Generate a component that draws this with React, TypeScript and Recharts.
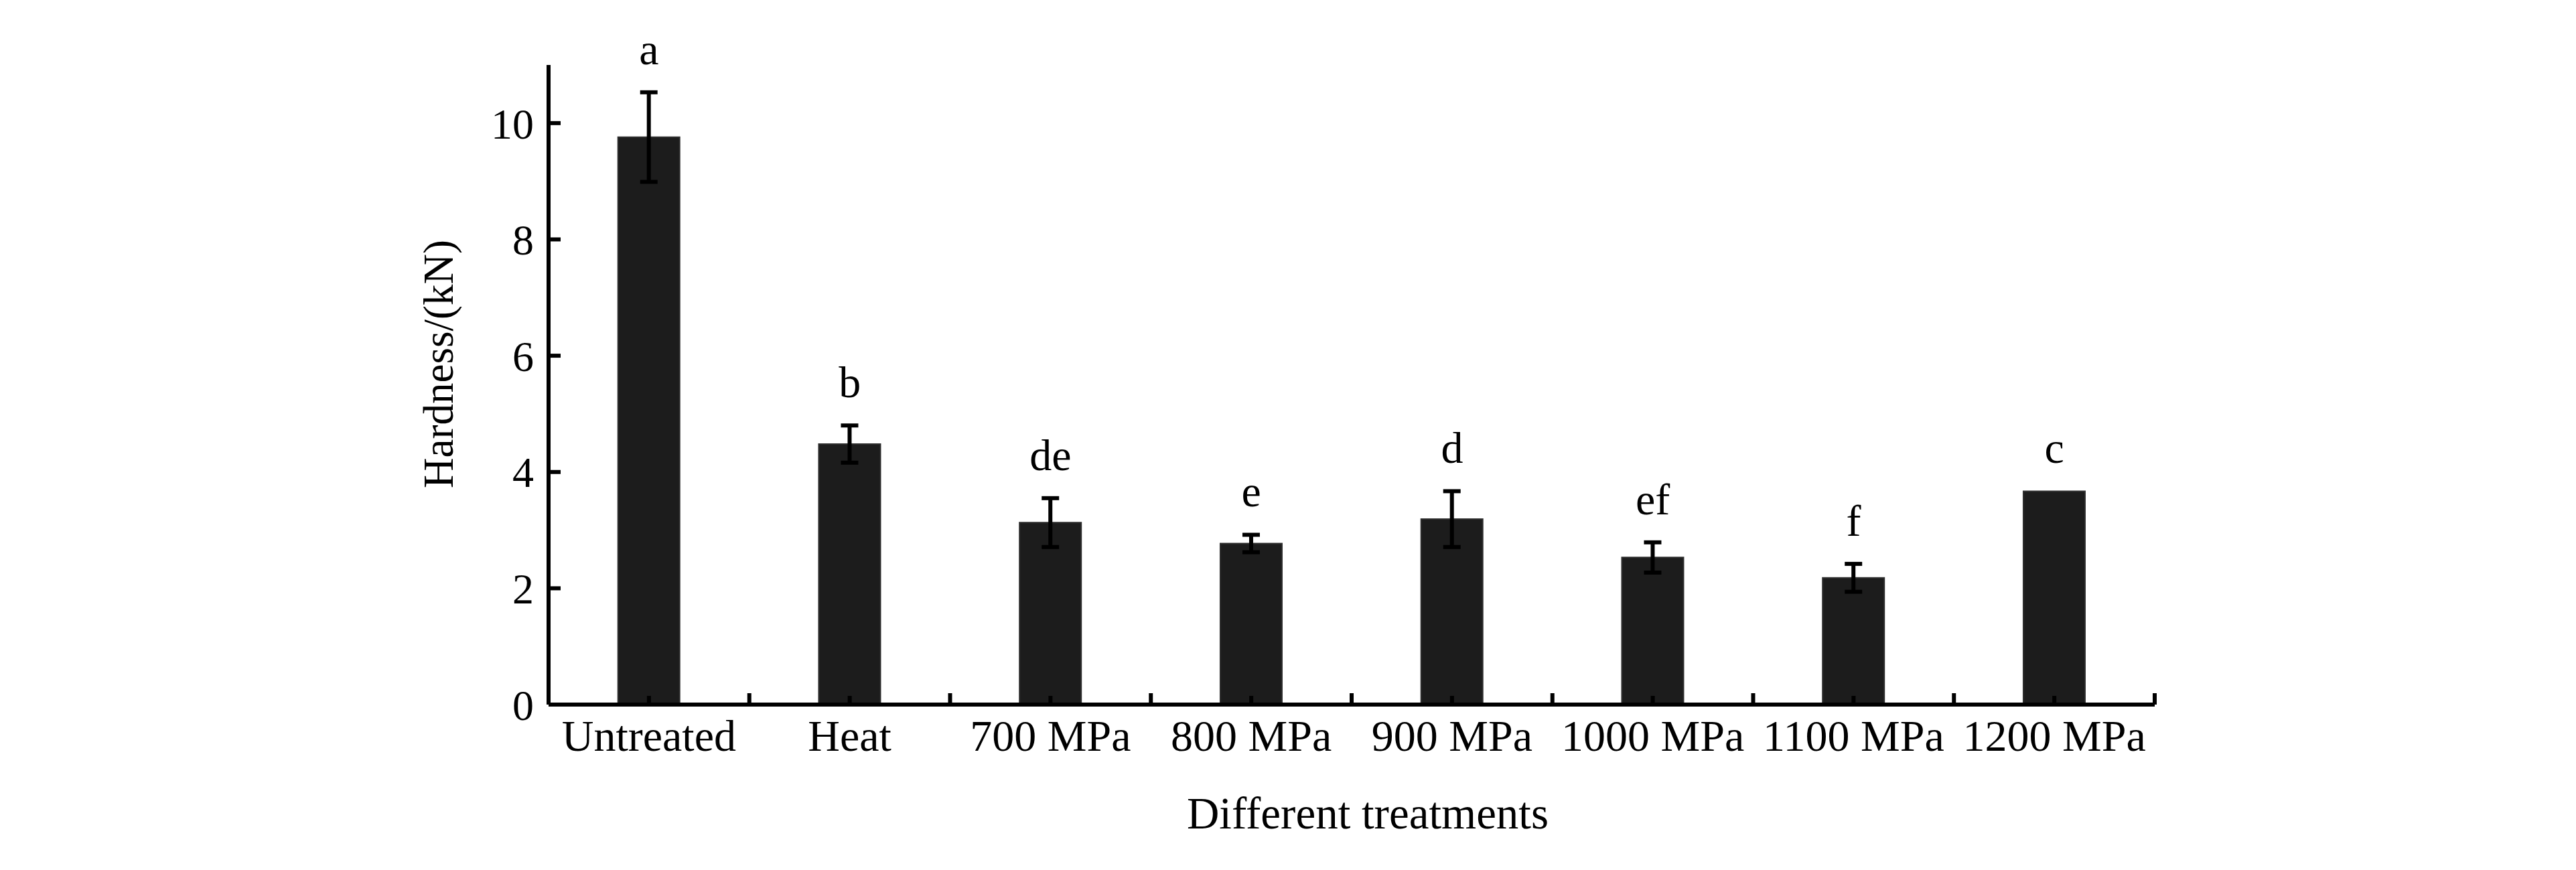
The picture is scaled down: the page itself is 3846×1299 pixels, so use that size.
import { Bar, ComposedChart, ErrorBar, Label, LabelList, Line, XAxis, YAxis } from "recharts";

// Hardness of samples after each treatment, mean ± SD, with significance letters.
const categories = ["Untreated", "Heat", "700 MPa", "800 MPa", "900 MPa", "1000 MPa", "1100 MPa", "1200 MPa"];
const hardness = [9.76, 4.48, 3.13, 2.77, 3.19, 2.53, 2.18, 3.67];
const sd = [0.77, 0.32, 0.42, 0.15, 0.48, 0.26, 0.24, 0];
const letters = ["a", "b", "de", "e", "d", "ef", "f", "c"];
const yTicks = [0, 2, 4, 6, 8, 10];

const data = categories.map((name, i) => ({
  name,
  hardness: hardness[i],
  sd: sd[i],
  letter: letters[i],
  top: hardness[i] + sd[i],
}));

const FONT = '"Liberation Serif", "Times New Roman", serif';

// Category label plus the short inward ticks: one at the centre, one at each band edge.
function XTick(props: any) {
  const { x, y, payload, index, width, visibleTicksCount } = props;
  const n = visibleTicksCount || categories.length;
  const band = width ? width / n : 300;
  return (
    <g>
      <line x1={x} x2={x} y1={y} y2={y - 13} stroke="#000" strokeWidth={6} />
      <line x1={x - band / 2} x2={x - band / 2} y1={y} y2={y - 17} stroke="#000" strokeWidth={6} />
      {index === n - 1 && (
        <line x1={x + band / 2} x2={x + band / 2} y1={y} y2={y - 17} stroke="#000" strokeWidth={6} />
      )}
      <text x={x} y={y + 69} textAnchor="middle" fontFamily={FONT} fontSize={66} fill="#000">
        {payload.value}
      </text>
    </g>
  );
}

function YTitle({ viewBox }: any) {
  const cx = viewBox.x + 36;
  const cy = viewBox.y + viewBox.height / 2 - 31;
  return (
    <text
      x={cx}
      y={cy}
      transform={`rotate(-90 ${cx} ${cy})`}
      textAnchor="middle"
      dominantBaseline="central"
      fontFamily={FONT}
      fontSize={63}
      fill="#000"
    >
      Hardness/(kN)
    </text>
  );
}

function XTitle({ viewBox }: any) {
  return (
    <text
      x={viewBox.x + viewBox.width / 2 + 24}
      y={viewBox.y + 185}
      textAnchor="middle"
      fontFamily={FONT}
      fontSize={67}
      fill="#000"
    >
      Different treatments
    </text>
  );
}

export default function App() {
  return (
    <div style={{ width: 3830, height: 1280, background: "#fff" }}>
      <ComposedChart
        width={3830}
        height={1280}
        data={data}
        margin={{ top: 89, right: 621, left: 611, bottom: 56 }}
        barCategoryGap="34.6%"
        style={{ fontFamily: FONT }}
      >
        <XAxis
          dataKey="name"
          height={180}
          axisLine={{ stroke: "#000", strokeWidth: 6 }}
          tickLine={false}
          tickSize={0}
          tickMargin={0}
          interval={0}
          tick={<XTick />}
        >
          <Label content={<XTitle />} />
        </XAxis>
        <YAxis
          width={200}
          domain={[0, 11]}
          ticks={yTicks}
          axisLine={{ stroke: "#000", strokeWidth: 6 }}
          tickLine={{ stroke: "#000", strokeWidth: 6 }}
          tickSize={-18}
          tickMargin={40}
          tick={{ fill: "#000", fontSize: 64, fontFamily: FONT }}
        >
          <Label content={<YTitle />} />
        </YAxis>
        <Bar dataKey="hardness" fill="#1c1c1c" stroke="#2e2e2e" strokeWidth={2} isAnimationActive={false}>
          <ErrorBar dataKey="sd" width={13} strokeWidth={6} stroke="#000" direction="y" isAnimationActive={false} />
        </Bar>
        <Line
          dataKey="top"
          stroke="none"
          dot={false}
          activeDot={false}
          legendType="none"
          isAnimationActive={false}
        >
          <LabelList dataKey="letter" position="top" offset={42} fill="#000" fontSize={66} fontFamily={FONT} />
        </Line>
      </ComposedChart>
    </div>
  );
}
